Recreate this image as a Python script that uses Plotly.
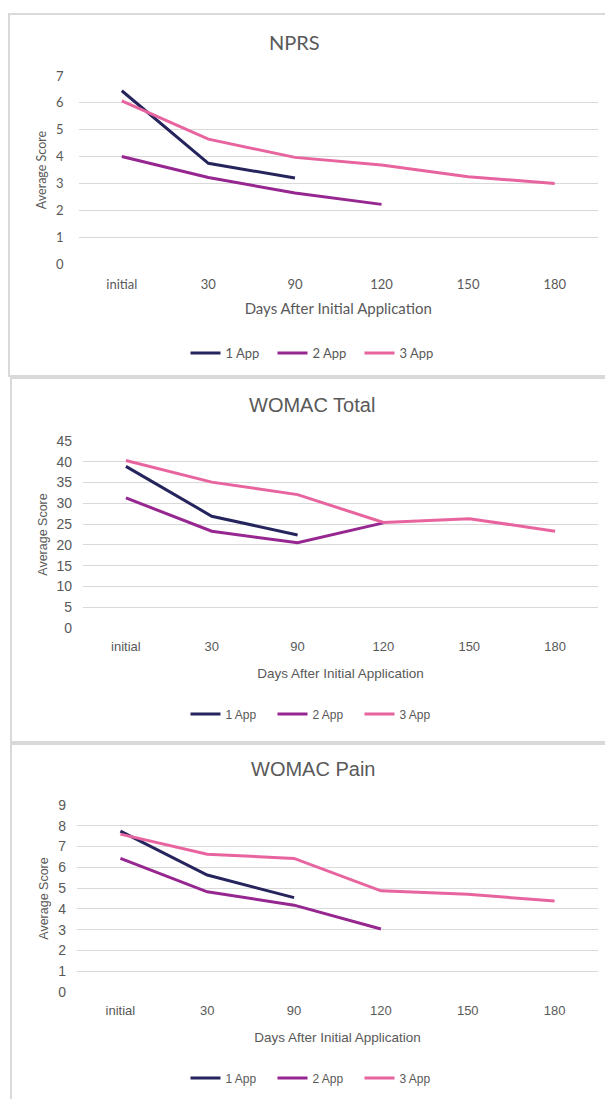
import plotly.graph_objects as go

W, H = 605, 1099

days = ["initial", "30", "90", "120", "150", "180"]
series_names = ["1 App", "2 App", "3 App"]
colors = ["#25245C", "#962690", "#E8649F"]

# NPRS averages per application group
nprs_1 = [6.45, 3.75, 3.2]
nprs_2 = [4.0, 3.22, 2.64, 2.22]
nprs_3 = [6.07, 4.65, 3.97, 3.69, 3.25, 3.0]

# WOMAC total averages
womac_total_1 = [38.9, 26.9, 22.4]
womac_total_2 = [31.3, 23.3, 20.5, 25.3]
womac_total_3 = [40.3, 35.1, 32.1, 25.4, 26.3, 23.3]

# WOMAC pain averages
womac_pain_1 = [7.74, 5.63, 4.54]
womac_pain_2 = [6.43, 4.82, 4.18, 3.03]
womac_pain_3 = [7.6, 6.63, 6.43, 4.87, 4.7, 4.38]


def px_x(v):
    return v / W


def px_y(v):
    return 1 - v / H


narrow = "'Liberation Sans Narrow', 'Arial Narrow', 'Liberation Sans', sans-serif"
panels = [
    dict(title="NPRS", data=[nprs_1, nprs_2, nprs_3], yr=[0, 7], dt=1,
         x0=78.5, x1=598, y0=76, y1=264, title_x=294, title_y=42, leg_y=353,
         font="Lato, 'Open Sans', sans-serif", tsize=20, xtick=13, ytick=13,
         xtitle=15, ytitle=12.5, leg=13, tick_off=11, title_off=12, ytick_off=14,
         box=(9, 14, 376)),
    dict(title="WOMAC Total", data=[womac_total_1, womac_total_2, womac_total_3], yr=[0, 45], dt=5,
         x0=83, x1=598, y0=441, y1=628, title_x=312, title_y=405, leg_y=714,
         font=narrow, tsize=20, xtick=13, ytick=14,
         xtitle=13.5, ytitle=12.5, leg=12, tick_off=9, title_off=15, ytick_off=10,
         box=(11, 378, 742)),
    dict(title="WOMAC Pain", data=[womac_pain_1, womac_pain_2, womac_pain_3], yr=[0, 9], dt=1,
         x0=77, x1=598, y0=805, y1=992, title_x=313, title_y=769, leg_y=1078,
         font=narrow, tsize=20, xtick=13, ytick=14,
         xtitle=13.5, ytitle=12.5, leg=12, tick_off=9, title_off=15, ytick_off=10,
         box=(11, 744, 1110)),
]

fig = go.Figure()
layout = dict(width=W, height=H, margin=dict(l=0, r=0, t=0, b=0, autoexpand=False),
              paper_bgcolor="white", plot_bgcolor="white", showlegend=True,
              shapes=[], annotations=[])

grey = "#595959"
for i, p in enumerate(panels, start=1):
    xa = "x" if i == 1 else f"x{i}"
    ya = "y" if i == 1 else f"y{i}"
    lg = "legend" if i == 1 else f"legend{i}"
    for name, vals, col in zip(series_names, p["data"], colors):
        fig.add_trace(go.Scatter(
            x=days[:len(vals)], y=vals, name=name, mode="lines",
            line=dict(color=col, width=3), xaxis=xa, yaxis=ya, legend=lg,
        ))
    fam = p["font"]
    layout["xaxis" if i == 1 else f"xaxis{i}"] = dict(
        domain=[px_x(p["x0"]), px_x(p["x1"])], anchor=ya, automargin=False,
        type="category", categoryorder="array", categoryarray=days,
        range=[-0.5, 5.5], showgrid=False, showline=False, zeroline=False,
        ticks="", tickfont=dict(family=fam, size=p["xtick"], color=grey),
        ticklabelstandoff=p["tick_off"],
        title=dict(text="Days After Initial Application",
                   font=dict(family=fam, size=p["xtitle"], color=grey), standoff=p["title_off"]),
    )
    layout["yaxis" if i == 1 else f"yaxis{i}"] = dict(
        domain=[px_y(p["y1"]), px_y(p["y0"])], anchor=xa, automargin=False,
        range=p["yr"], dtick=p["dt"], showgrid=True, gridcolor="#D9D9D9", gridwidth=1,
        zeroline=False, showline=False, ticks="",
        tickfont=dict(family=fam, size=p["ytick"], color=grey),
        ticklabelstandoff=p["ytick_off"],
        title=dict(text="Average Score", font=dict(family=fam, size=p["ytitle"], color=grey), standoff=6),
    )
    layout[lg] = dict(
        orientation="h", x=px_x(316), xanchor="center", y=px_y(p["leg_y"]), yanchor="middle",
        font=dict(family=fam, size=p["leg"], color=grey), bgcolor="rgba(0,0,0,0)",
        itemwidth=30, entrywidth=42, entrywidthmode="pixels",
    )
    layout["annotations"].append(dict(
        text=p["title"], xref="paper", yref="paper", x=px_x(p["title_x"]), y=px_y(p["title_y"]),
        xanchor="center", yanchor="middle", showarrow=False,
        font=dict(family=fam, size=p["tsize"], color=grey),
    ))
    bx, by0, by1 = p["box"]
    layout["shapes"].append(dict(
        type="rect", xref="paper", yref="paper", x0=px_x(bx), x1=px_x(640),
        y0=px_y(by1), y1=px_y(by0), line=dict(color="#D9D9D9", width=2), layer="below",
    ))

fig.update_layout(**layout)
fig.write_html("out.html")
